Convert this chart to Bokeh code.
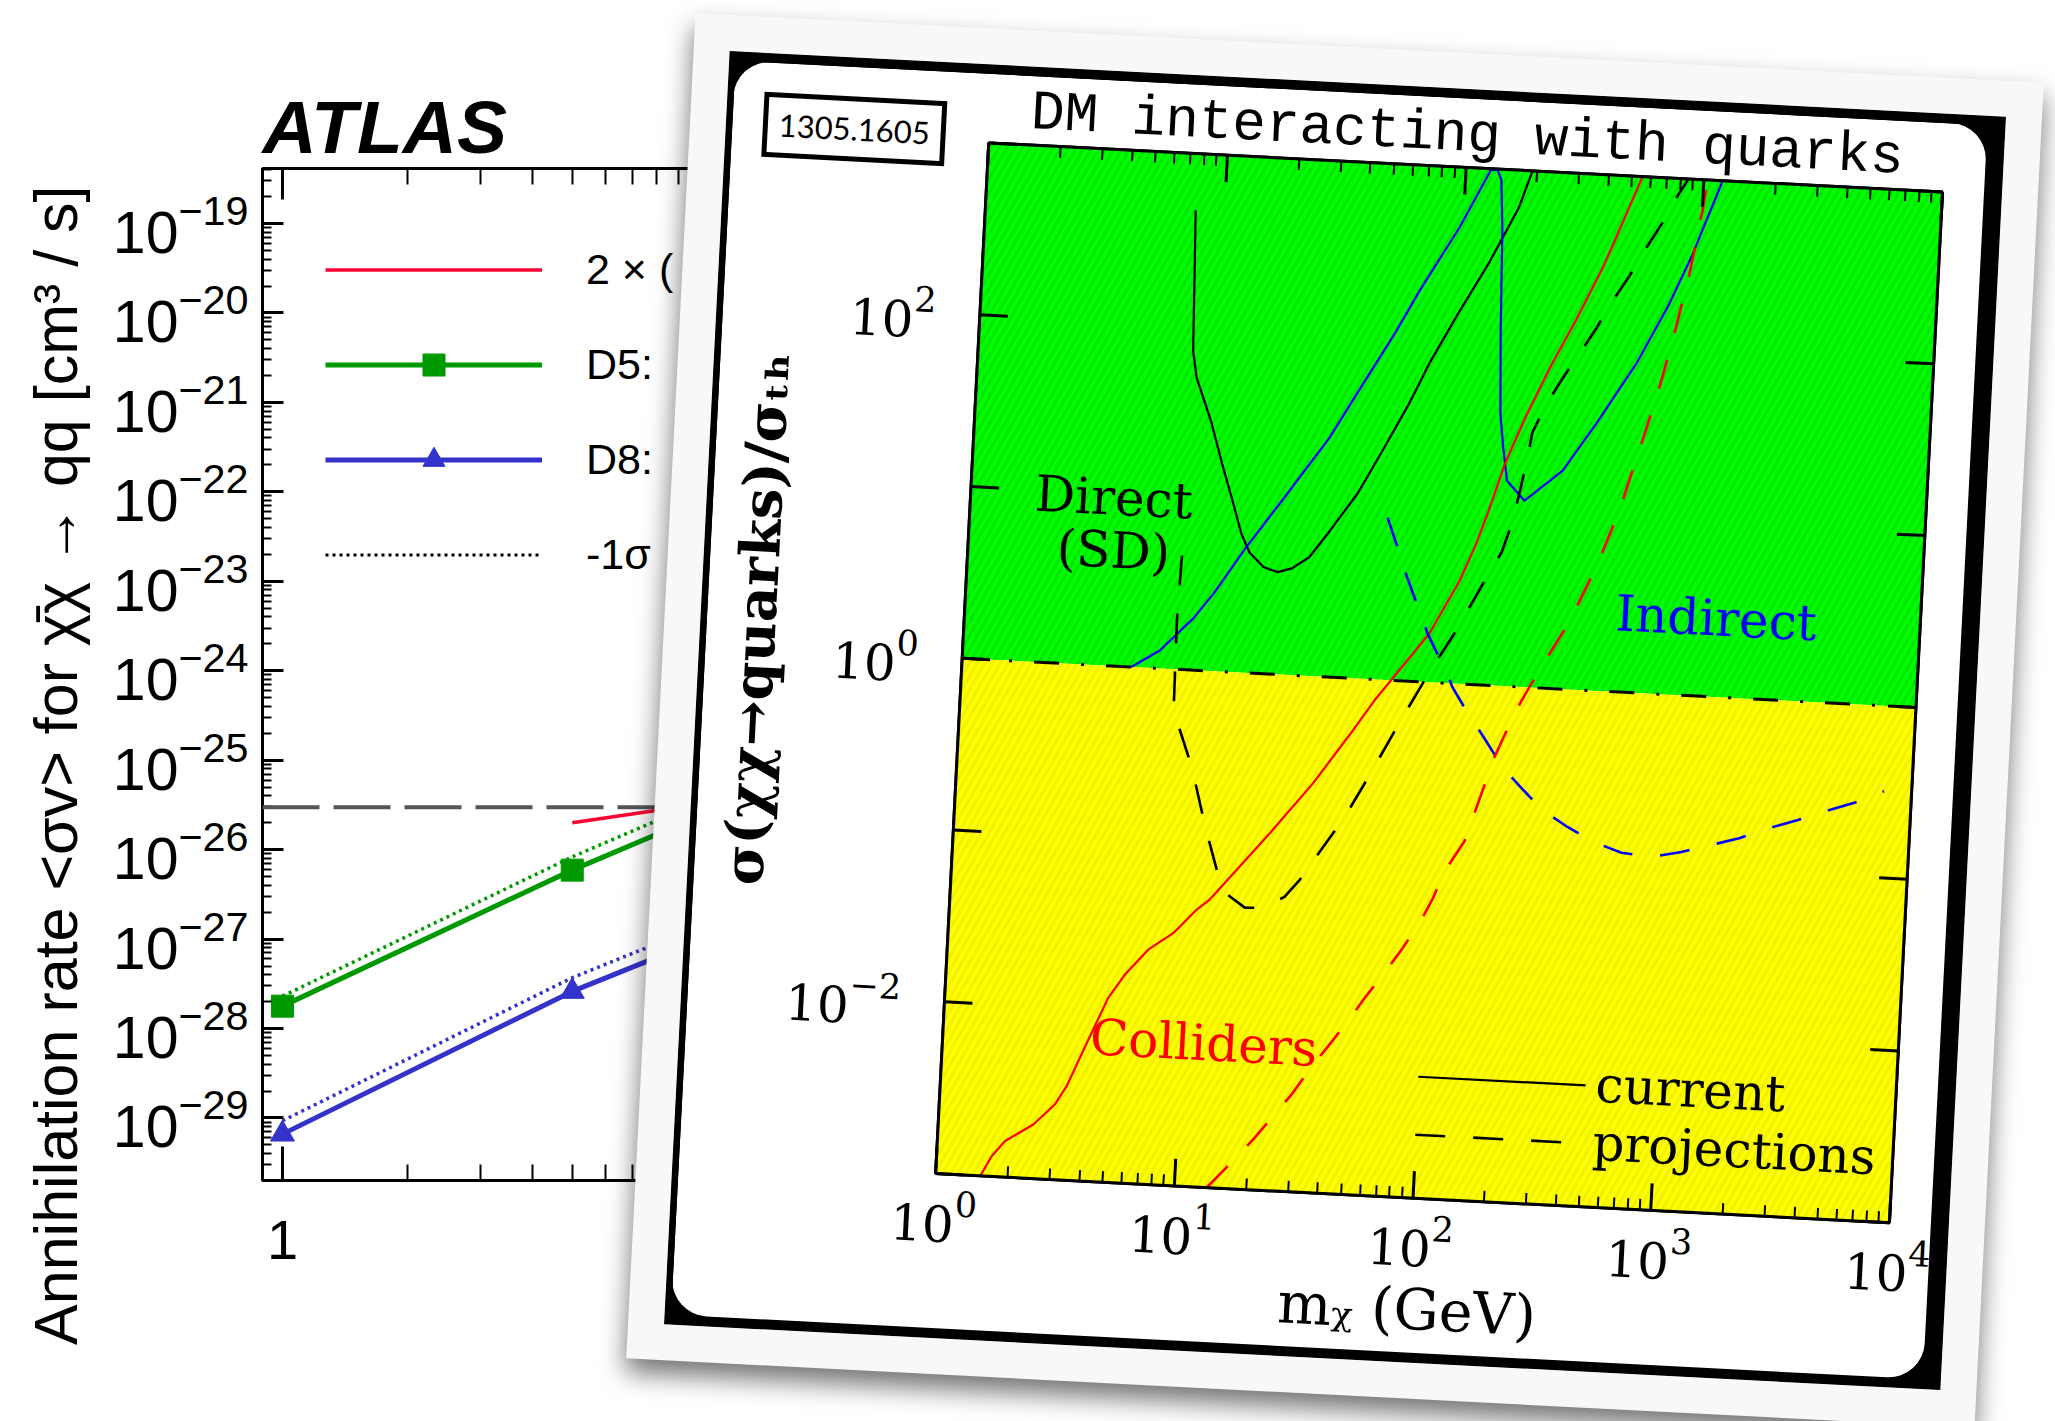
from bokeh.core.properties import value
from bokeh.embed import file_html
from bokeh.layouts import column
from bokeh.models import (CustomJSTickFormatter, Div, FixedTicker, GlobalInlineStyleSheet,
                          Label, Legend, LegendItem, LogAxis, Span, Title)
from bokeh.plotting import figure
from bokeh.resources import INLINE

# ---------------------------------------------------------------------------
# ATLAS: limits on the annihilation rate <sigma v> [cm^3/s] vs WIMP mass [GeV]
# ---------------------------------------------------------------------------
atlas_mass = [1, 5, 10]
d5_limit = [1.78e-28, 5.9e-27, 2.3e-26]
d5_limit_minus1sigma = [2.3e-28, 8.3e-27, 3.3e-26]
d8_limit = [6.6e-30, 2.6e-28, 9.5e-28]
d8_limit_minus1sigma = [9.3e-30, 3.7e-28, 1.35e-27]
relic_mass = [5, 10]
relic_rate = [2.0e-26, 3.2e-26]
thermal_rate = 2.97e-26
atlas_legend_labels = ["2 × (", "D5:", "D8:", "-1σ"]
# key-only sample for the -1 sigma style (lies beyond the plotted mass range)
sigma_key_mass = [2000, 3000]
sigma_key_rate = [1e-20, 1e-20]

atlas_y_ticks = [10.0 ** e for e in range(-29, -18)]
atlas_y_minor = [k * 10.0 ** e for e in range(-30, -18) for k in range(2, 10)]
atlas_x_ticks = [1, 10, 100, 1000]
atlas_x_minor = [k * 10.0 ** e for e in range(0, 3) for k in range(2, 10)]
atlas_x_labels = {1: "1", 10: "", 100: "", 1000: ""}

# ---------------------------------------------------------------------------
# 1305.1605: DM interacting with quarks, sigma / sigma_th vs m_chi [GeV]
# ---------------------------------------------------------------------------
direct_now_m = [7.59, 7.94, 8.32, 9.77, 11.2, 12.6, 13.8, 15.1, 17.4, 20.0, 22.9, 26.9,
                32.4, 41.7, 52.5, 64.6, 77.6, 100, 132, 170, 191]
direct_now_r = [468, 70.8, 50.1, 28.2, 15.5, 9.55, 6.46, 5.01, 4.17, 3.93, 4.17, 4.90,
                7.08, 12.0, 22.4, 39.8, 70.8, 141, 288, 603, 1000]

indirect_now_m = [5.11, 6.68, 9.06, 10.9, 14.6, 19.7, 30.9, 41.4, 55.6, 68.2, 97.0, 128,
                  136, 142, 147, 152, 158, 165, 174, 208, 296, 399, 569, 760, 929, 1197]
indirect_now_r = [1.0, 1.27, 1.99, 2.82, 5.37, 9.82, 24.7, 51.5, 107, 186, 445, 990,
                  990, 871, 439, 115, 37.9, 24.4, 15.6, 12.1, 18.6, 35.5, 81.1, 185, 366, 1000]

colliders_now_m = [1.54, 1.70, 1.92, 2.50, 3.05, 3.38, 4.13, 4.83, 5.61, 6.93, 8.75, 10.8,
                   12.2, 15.6, 21.1, 31.2, 44.7, 54.2, 88.9, 116, 132, 147, 170, 202, 248,
                   313, 394, 473, 552]
colliders_now_r = [0.001, 0.00131, 0.00162, 0.00206, 0.00274, 0.00352, 0.00697, 0.0118,
                   0.0163, 0.0231, 0.0293, 0.0406, 0.0469, 0.0713, 0.119, 0.239, 0.50,
                   0.757, 1.92, 3.98, 6.31, 10.0, 20.0, 37.2, 72.4, 141, 288, 562, 1000]

direct_proj_m = [7.89, 7.76, 7.85, 8.43, 9.64, 11.3, 12.9, 14.5, 17.2, 20.3, 25.1, 28.8,
                 34.4, 43.1, 53.6, 69.8, 90.8, 115, 150, 171, 187, 197, 208, 217, 245, 282,
                 328, 382, 440, 511, 593, 684, 780, 860]
direct_proj_r = [4.59, 1.92, 0.659, 0.445, 0.273, 0.124, 0.0703, 0.0508, 0.0433, 0.0437,
                 0.0514, 0.0652, 0.0959, 0.156, 0.277, 0.574, 1.15, 2.04, 4.23, 5.96, 8.95,
                 13.2, 19.9, 30.3, 44.9, 63.4, 89.5, 128, 186, 262, 386, 546, 789, 1000]

indirect_proj_m = [56.1, 62.7, 69.3, 77.5, 87.3, 96.2, 107, 114, 136, 159, 192, 233, 288,
                   370, 483, 630, 849, 1122, 1489, 1945, 2582, 3365, 4477, 5888, 7656]
indirect_proj_r = [8.79, 5.93, 4.10, 2.84, 1.92, 1.50, 1.16, 0.951, 0.658, 0.492, 0.338,
                   0.259, 0.196, 0.159, 0.132, 0.117, 0.113, 0.123, 0.138, 0.154, 0.180,
                   0.204, 0.236, 0.270, 0.319]

colliders_proj_m = [13.7, 17.4, 20.9, 25.1, 29.6, 34.8, 41.1, 49.2, 57.0, 67.3, 79.4, 93.3,
                    105, 115, 138, 150, 163, 177, 198, 222, 254, 294, 340, 429, 521, 612,
                    711, 811, 910, 1000, 1035]
colliders_proj_r = [0.001, 0.00145, 0.00196, 0.00272, 0.00367, 0.0052, 0.00718, 0.0102,
                    0.014, 0.0194, 0.0274, 0.0397, 0.056, 0.0794, 0.122, 0.179, 0.263,
                    0.386, 0.570, 0.820, 1.18, 1.71, 2.47, 5.22, 11.3, 25.6, 55.2, 125,
                    280, 658, 1000]

# key-only sample for the dashed "projections" style (beyond the mass axis)
proj_key_m = [2e4, 3e4]
proj_key_r = [1.0, 1.0]

region_bottom = [1.0, 1e-3]
region_top = [1e3, 1.0]
region_colors = ["#00ff00", "#ffff00"]
region_hatch = ["#00d400", "#e6e600"]
unitarity_level = 1.0

annotations = [("Direct", 3.98, 9.5, "black"), ("(SD)", 4.07, 4.69, "black"),
               ("Indirect", 1397, 2.86, "#0000ff"), ("Colliders", 12.4, 0.00687, "#ff0000")]

card_x_ticks = [1, 10, 100, 1000, 10000]
card_x_minor = [k * 10.0 ** e for e in range(0, 4) for k in range(2, 10)]
card_y_ticks = [1e-3, 1e-2, 0.1, 1, 10, 100, 1000]
card_y_labels = {1e-3: "", 0.1: "", 10: "", 1000: ""}

SANS = "Liberation Sans"
SERIF = "DejaVu Serif"
NBSP = "\u00a0"


def blank():
    return CustomJSTickFormatter(code="return ''")


def style_axis(ax, font, size, tick_in, minor_in, standoff, width=3):
    ax.axis_line_width = width
    ax.axis_line_color = "black"
    ax.major_tick_in = tick_in
    ax.major_tick_out = 0
    ax.minor_tick_in = minor_in
    ax.minor_tick_out = 0
    ax.major_tick_line_width = width
    ax.minor_tick_line_width = 2
    ax.major_tick_line_color = "black"
    ax.minor_tick_line_color = "black"
    ax.major_label_text_font = font
    ax.major_label_text_font_size = size
    ax.major_label_text_color = "black"
    ax.major_label_standoff = standoff


# ------------------------------- ATLAS figure -------------------------------
atlas = figure(width=2055, height=1421, x_axis_type="log", y_axis_type="log",
               x_range=(0.895, 1300), y_range=(2.0e-30, 4.12e-19),
               output_backend="svg", toolbar_location=None, tools="",
               min_border_left=261, min_border_right=482,
               min_border_top=168, min_border_bottom=241,
               background_fill_color="white", border_fill_color="white",
               outline_line_color="black", outline_line_width=3)
atlas.stylesheets = [GlobalInlineStyleSheet(css="html, body { overflow: hidden; }")]
atlas.grid.visible = False
atlas.add_layout(LogAxis(), "above")
atlas.add_layout(LogAxis(), "right")

x_bottom, x_top = atlas.below[0], atlas.above[0]
y_left, y_right = atlas.left[0], atlas.right[0]
for ax in (x_bottom, x_top):
    ax.ticker = FixedTicker(ticks=atlas_x_ticks, minor_ticks=atlas_x_minor)
for ax in (y_left, y_right):
    ax.ticker = FixedTicker(ticks=atlas_y_ticks, minor_ticks=atlas_y_minor)
style_axis(x_bottom, SANS, "56px", 34, 16, 40)
style_axis(x_top, SANS, "0px", 31, 16, 0)
style_axis(y_left, SANS, "59px", 21, 9, 14)
style_axis(y_right, SANS, "0px", 21, 9, 0)
x_bottom.major_label_overrides = atlas_x_labels
x_top.formatter = blank()
y_right.formatter = blank()

atlas.title.text = "ATLAS"
atlas.title.align = "left"
atlas.title.text_font = SANS
atlas.title.text_font_style = "bold italic"
atlas.title.text_font_size = "75px"
atlas.title.text_color = "black"
atlas.title.standoff = 0

atlas.add_layout(Title(text="Annihilation rate <σv> for χ̄χ → qq  [cm³ / s]",
                       align="right", text_font=SANS, text_font_size="61px",
                       text_font_style="normal", text_color="black", standoff=39),
                 "left")

atlas.add_layout(Span(location=thermal_rate, dimension="width", line_color="#555555",
                      line_width=4, line_dash="57 14"))

relic_r = atlas.line(relic_mass, relic_rate, line_color="#ff0033", line_width=3.5)
atlas.line(atlas_mass, d5_limit_minus1sigma, line_color="#009900", line_width=3.5,
           line_dash="3 4")
atlas.line(atlas_mass, d8_limit_minus1sigma, line_color="#3333cc", line_width=3.5,
           line_dash="3 4")
d5_line = atlas.line(atlas_mass, d5_limit, line_color="#009900", line_width=5)
d5_pts = atlas.scatter(atlas_mass, d5_limit, marker="square", size=22,
                       fill_color="#009900", line_color="#009900")
d8_line = atlas.line(atlas_mass, d8_limit, line_color="#3333cc", line_width=5)
d8_pts = atlas.scatter(atlas_mass, d8_limit, marker="triangle", size=24,
                       fill_color="#3333cc", line_color="#3333cc")
sigma_key = atlas.line(sigma_key_mass, sigma_key_rate, line_color="black", line_width=3,
                       line_dash="3 4")

atlas_legend = Legend(
    items=[LegendItem(label=value(atlas_legend_labels[0]), renderers=[relic_r]),
           LegendItem(label=value(atlas_legend_labels[1]), renderers=[d5_line, d5_pts]),
           LegendItem(label=value(atlas_legend_labels[2]), renderers=[d8_line, d8_pts]),
           LegendItem(label=value(atlas_legend_labels[3]), renderers=[sigma_key])],
    location=(63, 598), glyph_width=217, glyph_height=55, label_height=55,
    spacing=40, padding=0, margin=0, label_standoff=44,
    label_text_font=SANS, label_text_font_size="43px", label_text_color="black",
    border_line_alpha=0, background_fill_alpha=0)
atlas.add_layout(atlas_legend)

# ------------------------------- photo card ---------------------------------
# The print is tilted with a CSS rotation; the canvas is laid out on the
# rotated bounding box, so the right/bottom borders absorb that extra size.
card = figure(width=1254, height=1256, x_axis_type="log", y_axis_type="log",
              x_range=(1, 1e4), y_range=(1e-3, 1e3),
              output_backend="svg", toolbar_location=None, tools="",
              min_border_left=257, min_border_right=104,
              min_border_top=69, min_border_bottom=217,
              background_fill_color="white", border_fill_color="white",
              outline_line_color="black", outline_line_width=3)
card.grid.visible = False
card.add_layout(LogAxis(), "above")
card.add_layout(LogAxis(), "right")

cx_bottom, cx_top = card.below[0], card.above[0]
cy_left, cy_right = card.left[0], card.right[0]
for ax in (cx_bottom, cx_top):
    ax.ticker = FixedTicker(ticks=card_x_ticks, minor_ticks=card_x_minor)
for ax in (cy_left, cy_right):
    ax.ticker = FixedTicker(ticks=card_y_ticks, minor_ticks=[])
style_axis(cx_bottom, SERIF, "50px", 27, 11, 16)
style_axis(cx_top, SERIF, "0px", 27, 11, 0)
style_axis(cy_left, SERIF, "50px", 28, 0, 44)
style_axis(cy_right, SERIF, "0px", 28, 0, 0)
cy_left.major_label_overrides = card_y_labels
cx_top.formatter = blank()
cy_right.formatter = blank()

cx_bottom.axis_label = "mᵪ (GeV)"
cx_bottom.axis_label_text_font = SERIF
cx_bottom.axis_label_text_font_size = "57px"
cx_bottom.axis_label_text_font_style = "normal"
cx_bottom.axis_label_text_color = "black"
cx_bottom.axis_label_standoff = 7

cy_left.axis_label = NBSP * 3 + "σ(χχ→quarks)/σₜₕ"
cy_left.axis_label_text_font = SERIF
cy_left.axis_label_text_font_size = "55px"
cy_left.axis_label_text_font_style = "bold"
cy_left.axis_label_text_color = "black"
cy_left.axis_label_standoff = 13

card.title.text = "DM interacting with quarks"
card.title.align = "center"
card.title.text_font = "Liberation Mono"
card.title.text_font_size = "56px"
card.title.text_font_style = "normal"
card.title.text_color = "black"
card.title.standoff = 0

card.quad(left=1, right=1e4, bottom=region_bottom, top=region_top,
          fill_color=region_colors, line_alpha=0,
          hatch_pattern="/", hatch_color=region_hatch, hatch_alpha=0.55,
          hatch_scale=15, hatch_weight=3)
card.add_layout(Span(location=unitarity_level, dimension="width", line_color="black",
                     line_width=3, line_dash="25 22 3 22"))

direct_now = card.line(direct_now_m, direct_now_r, line_color="black", line_width=2.2)
card.line(indirect_now_m, indirect_now_r, line_color="#0000ff", line_width=2.2)
card.line(colliders_now_m, colliders_now_r, line_color="#ff0000", line_width=2.2)
card.line(direct_proj_m, direct_proj_r, line_color="black", line_width=2.6,
          line_dash="30 28")
card.line(indirect_proj_m, indirect_proj_r, line_color="#0000ff", line_width=2.6,
          line_dash="30 28")
card.line(colliders_proj_m, colliders_proj_r, line_color="#ff0000", line_width=2.6,
          line_dash="30 28")
proj_key = card.line(proj_key_m, proj_key_r, line_color="black", line_width=2.6,
                     line_dash="30 28")

for txt, x, y, col in annotations:
    card.add_layout(Label(x=x, y=y, text=txt, text_color=col, text_font=SERIF,
                          text_font_size="50px", text_align="center",
                          text_baseline="middle"))

card_legend = Legend(
    items=[LegendItem(label=value("current"), renderers=[direct_now]),
           LegendItem(label=value("projections"), renderers=[proj_key])],
    location=(477, 35), glyph_width=168, glyph_height=49, label_height=49,
    spacing=-15, padding=0, margin=0, label_standoff=10,
    label_text_font=SERIF, label_text_font_size="50px", label_text_color="black",
    border_line_alpha=0, background_fill_alpha=0)
card.add_layout(card_legend)

# rounded white panel of the print
card.styles = {"border-radius": "36px", "overflow": "hidden"}

tag = Div(text="1305.1605", styles={
    "position": "absolute", "left": "26px", "top": "25px",
    "width": "183px", "height": "65px", "box-sizing": "border-box",
    "border": "5px solid black", "background": "white", "color": "black",
    "font-family": "Lato", "font-size": "31px", "line-height": "55px",
    "text-align": "center",
})

# black mount, white paper border and drop shadow of the tilted print
photo = column(card, tag, styles={
    "position": "absolute", "left": "696px", "top": "83px",
    "width": "1254px", "height": "1256px", "box-sizing": "content-box",
    "border-style": "solid", "border-color": "black",
    "border-width": "9px 18px 10px 6px",
    "outline": "36px solid #f8f8f8",
    "box-shadow": "0 14px 26px 36px rgba(0, 0, 0, 0.55)",
    "background": "black",
    "transform": "rotate(2.95deg)", "transform-origin": "50% 50%",
    "z-index": "2",
})

open("out.html", "w").write(file_html([atlas, photo], INLINE))
